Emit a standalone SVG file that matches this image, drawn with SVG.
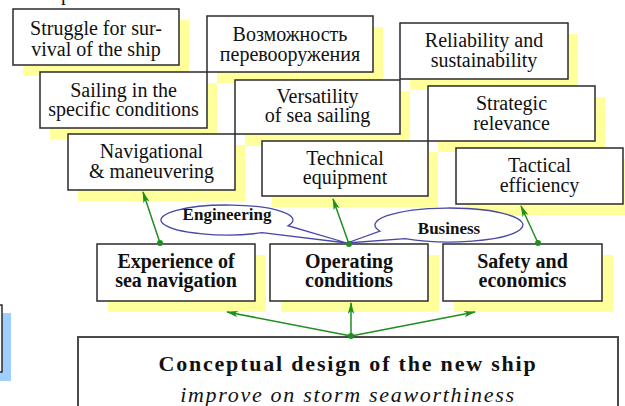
<svg xmlns="http://www.w3.org/2000/svg" width="625" height="406" viewBox="0 0 625 406">
  <defs>
    <style>
      .shadow { fill: #ffff9c; stroke: none; }
      .box { fill: #ffffff; stroke: #2b2b2b; stroke-width: 1.5; }
      .big { fill: #ffffff; stroke: #4a4a4a; stroke-width: 2; }
      .t { font-family: "Liberation Serif", "Times New Roman", serif; font-size: 20px; fill: #111; text-anchor: middle; }
      .b { font-weight: bold; }
      .callout { fill: #ffffff; stroke: #4848a8; stroke-width: 1.3; }
      .ct { font-family: "Liberation Serif", "Times New Roman", serif; font-size: 17px; font-weight: bold; fill: #111; text-anchor: middle; }
      .link { stroke: #1f8f1f; stroke-width: 1.5; fill: none; marker-end: url(#arrow); }
      .dot { fill: #1f8f1f; }
    </style>
    <marker id="arrow" viewBox="0 0 12 8" refX="11" refY="4" markerWidth="12" markerHeight="8" markerUnits="userSpaceOnUse" orient="auto">
      <path d="M0,0.8 L12,4 L0,7.2 L3,4 Z" fill="#1f8f1f"/>
    </marker>
  </defs>

  <!-- descender of a line of text above the frame -->
  <text class="t" x="66" y="0">p</text>

  <!-- partial box at the left edge -->
  <g id="edge-box">
    <rect x="-100" y="313" width="111" height="68" fill="#9fcfff"/>
    <rect x="-100" y="305" width="102" height="67" class="box"/>
  </g>

  <!-- yellow drop shadows -->
  <g id="shadows">
    <rect class="shadow" x="23" y="20" width="166" height="56"/>
    <rect class="shadow" x="50" y="83" width="167" height="56"/>
    <rect class="shadow" x="78" y="145" width="167" height="56"/>
    <rect class="shadow" x="217" y="27" width="166" height="56"/>
    <rect class="shadow" x="245" y="91" width="165" height="55"/>
    <rect class="shadow" x="272" y="152" width="166" height="55"/>
    <rect class="shadow" x="410" y="34" width="168" height="56"/>
    <rect class="shadow" x="438" y="97" width="167" height="55"/>
    <rect class="shadow" x="466" y="159" width="167" height="56"/>
    <rect class="shadow" x="108" y="255" width="158" height="57"/>
    <rect class="shadow" x="281" y="255" width="158" height="57"/>
    <rect class="shadow" x="454" y="255" width="159" height="57"/>
  </g>

  <g id="struggle">
    <rect class="box" x="13" y="9" width="166" height="56"/>
    <text class="t" x="96" y="35">Struggle for sur-</text>
    <text class="t" x="96" y="56">vival of the ship</text>
  </g>
  <g id="sailing">
    <rect class="box" x="40" y="72" width="167" height="56"/>
    <text class="t" x="123.5" y="97">Sailing in the</text>
    <text class="t" x="123.5" y="116">specific conditions</text>
  </g>
  <g id="navigational">
    <rect class="box" x="68" y="134" width="167" height="56"/>
    <text class="t" x="151.5" y="158">Navigational</text>
    <text class="t" x="151.5" y="178">&amp; maneuvering</text>
  </g>
  <g id="rearmament">
    <rect class="box" x="207" y="16" width="166" height="56"/>
    <text class="t" x="290" y="41">Возможность</text>
    <text class="t" x="290" y="61">перевооружения</text>
  </g>
  <g id="versatility">
    <rect class="box" x="235" y="80" width="165" height="54"/>
    <text class="t" x="317.5" y="103">Versatility</text>
    <text class="t" x="317.5" y="122">of sea sailing</text>
  </g>
  <g id="technical">
    <rect class="box" x="262" y="141" width="166" height="55"/>
    <text class="t" x="345" y="165">Technical</text>
    <text class="t" x="345" y="184">equipment</text>
  </g>
  <g id="reliability">
    <rect class="box" x="400" y="23" width="168" height="56"/>
    <text class="t" x="484" y="47">Reliability and</text>
    <text class="t" x="484" y="67">sustainability</text>
  </g>
  <g id="strategic">
    <rect class="box" x="428" y="86" width="167" height="55"/>
    <text class="t" x="511.5" y="110">Strategic</text>
    <text class="t" x="511.5" y="130">relevance</text>
  </g>
  <g id="tactical">
    <rect class="box" x="456" y="148" width="167" height="56"/>
    <text class="t" x="539.5" y="172">Tactical</text>
    <text class="t" x="539.5" y="192">efficiency</text>
  </g>

  <g id="experience">
    <rect class="box" x="97" y="244" width="158" height="57"/>
    <text class="t b" x="176" y="268">Experience of</text>
    <text class="t b" x="176" y="287">sea navigation</text>
  </g>
  <g id="operating">
    <rect class="box" x="270" y="244" width="158" height="57"/>
    <text class="t b" x="349" y="268">Operating</text>
    <text class="t b" x="349" y="287">conditions</text>
  </g>
  <g id="safety">
    <rect class="box" x="443" y="244" width="159" height="57"/>
    <text class="t b" x="522.5" y="268">Safety and</text>
    <text class="t b" x="522.5" y="287">economics</text>
  </g>

  <g id="conceptual">
    <rect class="big" x="78" y="337" width="540" height="100"/>
    <text class="t b" x="348" y="371" style="font-size:22px" letter-spacing="1.8">Conceptual design of the new ship</text>
    <text class="t" x="348" y="402" style="font-size:22px;font-style:italic" letter-spacing="1.7">improve on storm seaworthiness</text>
  </g>

  <!-- speech-bubble labels -->
  <g id="engineering">
    <path class="callout" d="M288,225.7 A66,15 0 1,0 262,232.7 L347,243 Z"/>
    <text class="ct" x="227" y="220">Engineering</text>
  </g>
  <g id="business">
    <path class="callout" d="M380,231.2 A74,17 0 1,1 405,238.7 L347,243 Z"/>
    <text class="ct" x="449" y="234">Business</text>
  </g>

  <g id="connectors">
    <line class="link" x1="160" y1="243" x2="143" y2="192"/>
    <circle class="dot" cx="160" cy="243" r="3"/>
    <line class="link" x1="349" y1="244" x2="333" y2="199"/>
    <circle class="dot" cx="349" cy="244" r="3"/>
    <line class="link" x1="538" y1="243" x2="521" y2="206"/>
    <circle class="dot" cx="538" cy="243" r="3"/>
    <line class="link" x1="351" y1="336" x2="227" y2="312"/>
    <line class="link" x1="351" y1="336" x2="351" y2="303"/>
    <line class="link" x1="351" y1="336" x2="475" y2="312"/>
    <circle class="dot" cx="351" cy="336" r="3"/>
  </g>
</svg>
